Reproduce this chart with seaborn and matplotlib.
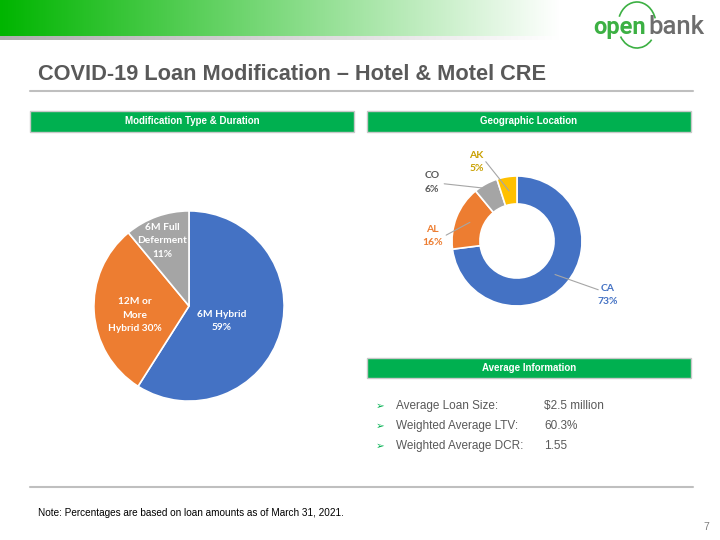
import numpy as np
import seaborn as sns
import matplotlib.pyplot as plt
from matplotlib.patches import Rectangle, Arc

# data
mod_labels = ['6M Hybrid\n59%', '12M or\nMore\nHybrid 30%', '6M Full\nDeferment\n11%']
mod_values = [59, 30, 11]
mod_colors = ['#4472c4', '#ed7d31', '#a5a5a5']

geo_states = ['CA', 'AL', 'CO', 'AK']
geo_values = [73, 16, 6, 5]
geo_colors = ['#4472c4', '#ed7d31', '#a5a5a5', '#ffc000']
geo_text_colors = ['#4472c4', '#ed7d31', '#595959', '#c9a000']

avg_items = ['Average Loan Size:', 'Weighted Average LTV:', 'Weighted Average DCR:']
avg_values = ['$2.5 million', '60.3%', '1.55']

W, H = 720, 540
GREEN = '#00b050'
GREY_TXT = '#595959'

sns.set_style('white')
plt.rcParams['font.family'] = ['Liberation Sans', 'DejaVu Sans']

fig = plt.figure(figsize=(7.2, 5.4), dpi=100)

def px_axes(x, y, w, h):
    return fig.add_axes([x / W, 1 - (y + h) / H, w / W, h / H])

# background layer in pixel coords
bg = fig.add_axes([0, 0, 1, 1])
bg.axis('off')

# top gradient banner
grad = np.linspace(0, 1, 256)
start = np.array([0.0, 0.71, 0.0])
rgb = start[None, :] * (1 - grad[:, None]) + np.ones(3)[None, :] * grad[:, None]
bg.imshow(rgb[None, :, :], extent=[0, 560, 36, 0], aspect='auto', zorder=0)
shade = np.linspace(0.68, 1.0, 256)
bg.imshow(np.stack([shade] * 3, axis=-1)[None, :, :], extent=[0, 560, 40, 36], aspect='auto', zorder=0)
bg.set_xlim(0, W)
bg.set_ylim(H, 0)

# logo
bg.text(593, 34, 'open', fontsize=17, color='#3cb043', family='Roboto', fontweight='bold',
        va='baseline', ha='left')
bg.text(648, 34, 'bank', fontsize=18.5, color='#6d6d6d', family='Roboto', fontweight='medium',
        va='baseline', ha='left')
bg.add_patch(Arc((637, 25), 38, 46, theta1=205, theta2=340, color='#3cb043', lw=1.2))
bg.add_patch(Arc((637, 25), 38, 46, theta1=45, theta2=145, color='#3cb043', lw=1.2))

# title
bg.text(38, 75, 'COVID-19 Loan Modification \u2013 Hotel & Motel CRE', fontsize=15.7,
        fontweight='bold', color=GREY_TXT, va='center', ha='left')
bg.plot([30, 693], [91, 91], color='#bfbfbf', lw=1.5)
bg.plot([30, 693], [487, 487], color='#bfbfbf', lw=1.5)

# section headers
def header(x, y, w, h, txt):
    bg.add_patch(Rectangle((x, y), w, h, facecolor=GREEN, edgecolor='#c8c8c8', lw=1))
    bg.text(x + w / 2, y + h / 2, txt, color='white', fontsize=7, fontweight='bold',
            ha='center', va='center')

header(30, 111, 324, 21, 'Modification Type & Duration')
header(367, 111, 324, 21, 'Geographic Location')
header(367, 358, 324, 20, 'Average Information')

# average info bullets
for i, (item, val) in enumerate(zip(avg_items, avg_values)):
    yy = 406 + i * 20
    bg.text(380, yy, '\u27a2', color=GREEN, fontsize=7.5, family='DejaVu Sans', ha='center', va='center')
    bg.text(396, yy, item, color=GREY_TXT, fontsize=8.5, ha='left', va='center')
    bg.text(544, yy, val, color=GREY_TXT, fontsize=8.5, ha='left', va='center')

# footnote and page number
bg.text(38, 513, 'Note: Percentages are based on loan amounts as of March 31, 2021.',
        fontsize=7.2, color='black', ha='left', va='center')
bg.text(709, 527, '7', fontsize=7.5, color='#7f7f7f', ha='right', va='center')

# left pie
ax1 = px_axes(92, 209, 194, 194)
wedges, _ = ax1.pie(mod_values, colors=mod_colors, startangle=90, counterclock=False,
                    wedgeprops=dict(edgecolor='white', linewidth=1.2), radius=1)
ax1.set_xlim(-1.02, 1.02)
ax1.set_ylim(-1.02, 1.02)
ax1.set_aspect('equal')
label_r = [0.38, 0.58, 0.74]
label_shift = [-8, 6, 2.5]
for w, lab, r, sh in zip(wedges, mod_labels, label_r, label_shift):
    ang = np.deg2rad((w.theta1 + w.theta2) / 2 + sh)
    ax1.text(r * np.cos(ang), r * np.sin(ang), lab, color='white', fontsize=7.3,
             fontweight='bold', family=['Lato', 'DejaVu Sans'], ha='center', va='center',
             linespacing=1.65)

# donut
ax2 = px_axes(517 - 130, 241 - 130, 260, 260)
dw, _ = ax2.pie(geo_values, colors=geo_colors, startangle=90, counterclock=False,
                wedgeprops=dict(width=0.43, edgecolor='white', linewidth=1.2), radius=1)
ax2.set_xlim(-2, 2)
ax2.set_ylim(-2, 2)
ax2.set_aspect('equal')
ax2.axis('off')
# label placement (x, y) relative to radius 1
label_pos = [(1.40, -0.83), (-1.30, 0.08), (-1.31, 0.90), (-0.62, 1.22)]
line_end = [(1.25, -0.75), (-1.09, 0.09), (-1.12, 0.88), (-0.48, 1.22)]
line_r = [0.78, 0.78, 0.92, 0.78]
for w, st, v, c, lp, le, lr in zip(dw, geo_states, geo_values, geo_text_colors, label_pos, line_end, line_r):
    ang = np.deg2rad((w.theta1 + w.theta2) / 2)
    p0 = (lr * np.cos(ang), lr * np.sin(ang))
    ax2.plot([p0[0], le[0]], [p0[1], le[1]], color='#a6a6a6', lw=0.8)
    ax2.text(lp[0], lp[1], f'{st}\n{v}%', color=c, fontsize=7.5, fontweight='bold',
             family=['Lato', 'DejaVu Sans'], ha='center', va='center', linespacing=1.6)

fig.savefig('out.png', dpi=100)
